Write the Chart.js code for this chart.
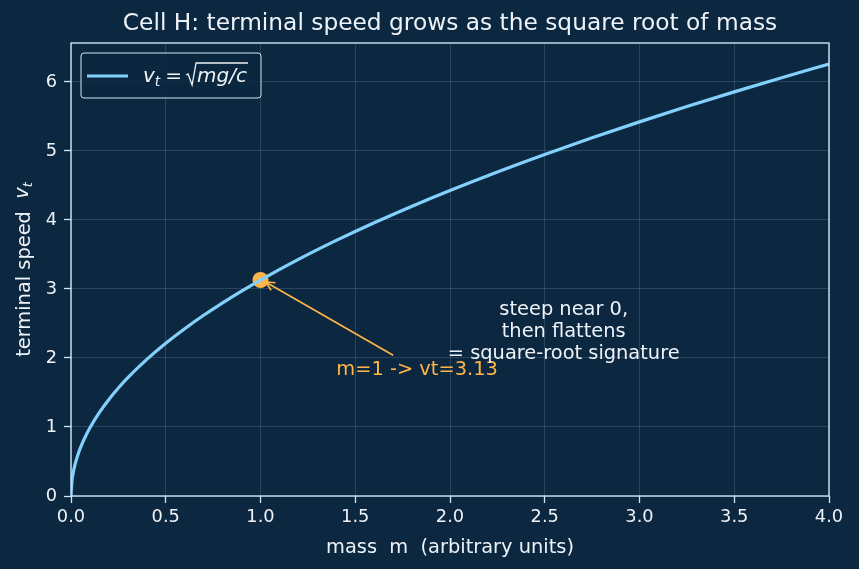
<!DOCTYPE html>
<html><head><meta charset="utf-8">
<script src="https://cdn.jsdelivr.net/npm/chart.js@4.4.1/dist/chart.umd.min.js"></script>
<style>html,body{margin:0;padding:0;background:#0c2740;}#wrap{width:859px;height:569px;}</style>
</head><body><div id="wrap"><canvas id="c" width="859" height="569"></canvas></div>
<script>
const mass  = [0, 0.005, 0.01, 0.02, 0.04, 0.06, 0.08, 0.1, 0.15, 0.2, 0.25, 0.3, 0.4, 0.5, 0.6, 0.7, 0.8, 0.9, 1.0, 1.2, 1.4, 1.6, 1.8, 2.0, 2.25, 2.5, 2.75, 3.0, 3.25, 3.5, 3.75, 4.0];
const speed = [0, 0.221, 0.313, 0.443, 0.626, 0.767, 0.885, 0.990, 1.212, 1.400, 1.565, 1.715, 1.980, 2.214, 2.425, 2.619, 2.800, 2.970, 3.130, 3.429, 3.704, 3.960, 4.200, 4.427, 4.696, 4.950, 5.191, 5.422, 5.644, 5.857, 6.062, 6.261];
const markMass = [1.0];
const markSpeed = [3.13];
const xTicks = [0, 0.5, 1.0, 1.5, 2.0, 2.5, 3.0, 3.5, 4.0];
const yTicks = [0, 1, 2, 3, 4, 5, 6];
const titleText = "Cell H: terminal speed grows as the square root of mass";
const xLabel = "mass  m  (arbitrary units)";
const markLabel = "m=1 -> vt=3.13";
const noteLines = ["steep near 0,", "then flattens", "= square-root signature"];

const BG = '#0c2740', FG = '#eef3f8', SPINE = '#cfe6f7', LINE = '#82d0fb', ORANGE = '#ffb547';
const FONT = '"DejaVu Sans", sans-serif';
const MED = 19.4;

const decor = {
  id: 'decor',
  beforeDraw(chart) {
    const ctx = chart.ctx;
    ctx.save(); ctx.fillStyle = BG; ctx.fillRect(0, 0, chart.width, chart.height); ctx.restore();
  },
  afterDatasetsDraw(chart) {
    const ctx = chart.ctx, xs = chart.scales.x, ys = chart.scales.y, a = chart.chartArea;
    ctx.save();
    ctx.strokeStyle = SPINE; ctx.lineWidth = 1.4;
    ctx.strokeRect(a.left, a.top, a.right - a.left, a.bottom - a.top);
    // title
    ctx.fillStyle = FG; ctx.font = '23.3px ' + FONT; ctx.textAlign = 'center'; ctx.textBaseline = 'middle';
    ctx.fillText(titleText, (a.left + a.right) / 2, 24);
    // y label
    ctx.save();
    ctx.translate(25, (a.top + a.bottom) / 2);
    ctx.rotate(-Math.PI / 2);
    ctx.textBaseline = 'middle';
    const p1 = 'terminal speed  ';
    ctx.font = MED + 'px ' + FONT; const w1 = ctx.measureText(p1).width;
    ctx.font = 'italic ' + MED + 'px ' + FONT; const wv = ctx.measureText('v').width;
    ctx.font = 'italic 13px ' + FONT; const wt = ctx.measureText('t').width;
    let x0 = -(w1 + wv + wt) / 2;
    ctx.textAlign = 'left';
    ctx.font = MED + 'px ' + FONT; ctx.fillText(p1, x0, 0);
    ctx.font = 'italic ' + MED + 'px ' + FONT; ctx.fillText('v', x0 + w1, -2);
    ctx.font = 'italic 13px ' + FONT; ctx.fillText('t', x0 + w1 + wv, 4);
    ctx.restore();
    // arrow annotation
    const tx = xs.getPixelForValue(1.7), ty = ys.getPixelForValue(2.04);
    const hx = xs.getPixelForValue(markMass[0]) + 5, hy = ys.getPixelForValue(markSpeed[0]) + 2;
    ctx.strokeStyle = ORANGE; ctx.lineWidth = 1.7;
    ctx.beginPath(); ctx.moveTo(tx, ty); ctx.lineTo(hx, hy); ctx.stroke();
    const ang = Math.atan2(hy - ty, hx - tx);
    ctx.beginPath();
    ctx.moveTo(hx - 10 * Math.cos(ang - 0.45), hy - 10 * Math.sin(ang - 0.45));
    ctx.lineTo(hx, hy);
    ctx.lineTo(hx - 10 * Math.cos(ang + 0.45), hy - 10 * Math.sin(ang + 0.45));
    ctx.stroke();
    ctx.fillStyle = ORANGE; ctx.font = MED + 'px ' + FONT; ctx.textAlign = 'left'; ctx.textBaseline = 'middle';
    ctx.fillText(markLabel, xs.getPixelForValue(1.40), ys.getPixelForValue(1.83));
    // note
    ctx.fillStyle = FG; ctx.textAlign = 'center';
    const nx = xs.getPixelForValue(2.6);
    noteLines.forEach((l, i) => ctx.fillText(l, nx, ys.getPixelForValue(2.7) + i * 22));
    // legend
    const lx = a.left + 10, ly = a.top + 10, lw = 180, lh = 45;
    ctx.fillStyle = 'rgba(12,39,64,0.85)'; ctx.strokeStyle = SPINE; ctx.lineWidth = 1;
    ctx.beginPath(); ctx.roundRect(lx, ly, lw, lh, 3); ctx.fill(); ctx.stroke();
    ctx.strokeStyle = LINE; ctx.lineWidth = 3;
    ctx.beginPath(); ctx.moveTo(lx + 6, ly + 23); ctx.lineTo(lx + 47, ly + 23); ctx.stroke();
    ctx.fillStyle = FG; ctx.textAlign = 'left'; ctx.textBaseline = 'alphabetic';
    let cx = lx + 62; const by = ly + 29;
    ctx.font = 'italic 20px ' + FONT; ctx.fillText('v', cx, by); cx += ctx.measureText('v').width;
    ctx.font = 'italic 14px ' + FONT; ctx.fillText('t', cx, by + 4); cx += ctx.measureText('t').width + 5;
    ctx.font = '20px ' + FONT; ctx.fillText('=', cx, by); cx += ctx.measureText('=').width + 4;
    ctx.strokeStyle = FG; ctx.lineWidth = 1.3;
    ctx.beginPath();
    ctx.moveTo(cx, by - 7); ctx.lineTo(cx + 2, by - 8); ctx.lineTo(cx + 6, by + 3); ctx.lineTo(cx + 10, by - 19);
    ctx.font = 'italic 20px ' + FONT; const wm = ctx.measureText('mg/c').width;
    ctx.lineTo(cx + 12 + wm, by - 19);
    ctx.stroke();
    ctx.fillText('mg/c', cx + 11, by);
    ctx.restore();
  }
};

new Chart(document.getElementById('c'), {
  type: 'line',
  data: {
    datasets: [
      { data: mass.map((m, i) => ({x: m, y: speed[i]})), borderColor: LINE, borderWidth: 3.2, pointRadius: 0, cubicInterpolationMode: 'monotone', fill: false },
      { data: markMass.map((m, i) => ({x: m, y: markSpeed[i]})), showLine: false, pointRadius: 8, pointBackgroundColor: ORANGE, pointBorderColor: ORANGE, pointBorderWidth: 0 }
    ]
  },
  options: {
    responsive: false, animation: false, devicePixelRatio: 1,
    layout: { padding: { left: 0, right: 30, top: 43, bottom: 0 } },
    plugins: { legend: { display: false }, tooltip: { enabled: false }, title: { display: false } },
    scales: {
      x: {
        type: 'linear', min: 0, max: 4,
        afterFit: s => { s.height = 73; },
        afterBuildTicks: s => { s.ticks = xTicks.map(v => ({value: v})); },
        ticks: { color: FG, font: { family: FONT, size: 17.8 }, padding: 4, maxRotation: 0, callback: v => v.toFixed(1) },
        grid: { color: 'rgba(180,210,235,0.22)', lineWidth: 0.8, tickLength: 7, tickColor: SPINE, tickWidth: 1.3 },
        border: { display: false },
        title: { display: true, text: xLabel, color: FG, font: { family: FONT, size: MED }, padding: { top: 0, bottom: 9 } }
      },
      y: {
        type: 'linear', min: 0, max: 6.565,
        afterFit: s => { s.width = 71; },
        afterBuildTicks: s => { s.ticks = yTicks.map(v => ({value: v})); },
        ticks: { color: FG, font: { family: FONT, size: 17.8 }, padding: 7, callback: v => String(v) },
        grid: { color: 'rgba(180,210,235,0.22)', lineWidth: 0.8, tickLength: 7, tickColor: SPINE, tickWidth: 1.3 },
        border: { display: false }
      }
    }
  },
  plugins: [decor]
});
</script></body></html>
